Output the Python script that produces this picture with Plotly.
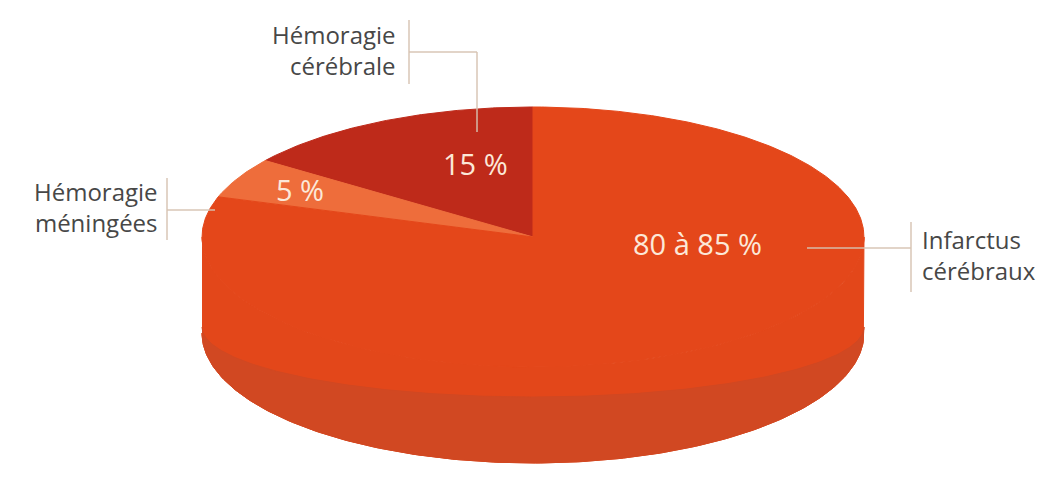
import numpy as np
import plotly.graph_objects as go

# ---------------- data ----------------
categories = ["Hémoragie cérébrale", "Hémoragie méningées", "Infarctus cérébraux"]
values = [15, 5, 80]
value_labels = ["15 %", "5 %", "80 à 85 %"]
slice_colors = ["#BE2A1A", "#EE6D3B", "#E4471A"]

# ---------------- geometry / style ----------------
W, H = 1059, 487
CX, CY, RX, RY, DEPTH = 533, 237, 331, 130, 96
START = 90.0  # first slice starts at 12 o'clock, goes counter-clockwise


def ell(theta_deg, r=1.0, cy=CY, ry=RY):
    t = np.radians(theta_deg)
    return CX + r * RX * np.cos(t), cy - r * ry * np.sin(t)


fig = go.Figure()

# side wall (front half, belongs to the big slice)
t = np.linspace(180, 360, 200)
xt, yt = ell(t)
xb, yb = ell(t[::-1], cy=CY + DEPTH)
wall = "#E3471A"
fig.add_trace(go.Scatter(x=np.r_[xt, xb], y=np.r_[yt, yb], fill="toself", mode="lines",
                         fillcolor=wall, line=dict(color=wall, width=1),
                         hoverinfo="skip", showlegend=False))
# darker lower band of the wall
xu, yu = ell(t, cy=CY + DEPTH - 6, ry=70)
band = "#D14822"
fig.add_trace(go.Scatter(x=np.r_[xu, xb], y=np.r_[yu, yb], fill="toself", mode="lines",
                         fillcolor=band, line=dict(color=band, width=1),
                         hoverinfo="skip", showlegend=False))

# top face slices from the values
total = float(sum(values))
a0 = START
for cat, v, col in zip(categories, values, slice_colors):
    a1 = a0 + 360.0 * v / total
    ang = np.linspace(a0, a1, max(int(abs(a1 - a0) * 2), 4))
    xs, ys = ell(ang)
    fig.add_trace(go.Scatter(x=np.r_[CX, xs, CX], y=np.r_[CY, ys, CY], fill="toself",
                             mode="lines", fillcolor=col, line=dict(color=col, width=1),
                             name=cat, hoverinfo="name", showlegend=False))
    a0 = a1

# value labels on the slices
inner_pos = [(475, 163), (300, 189), (697, 243)]
for txt, (x, y) in zip(value_labels, inner_pos):
    fig.add_annotation(x=x, y=y, text=txt, showarrow=False,
                       font=dict(family="Open Sans", size=29, color="#FCE8D8"))

# category labels (two lines each)
outer = [
    (categories[0], 398, 50, "right"),
    (categories[1], 160, 207, "right"),
    (categories[2], 920, 255, "left"),
]
for cat, x, y, anchor in outer:
    fig.add_annotation(x=x, y=y, text="<br>".join(cat.split(" ")), showarrow=False,
                       xanchor=anchor, yanchor="middle", align=anchor,
                       font=dict(family="Open Sans", size=24, color="#474747"))

# leader lines
lc = "rgba(214,195,178,0.95)"
leaders = [
    (409, 20, 409, 84), (409, 52, 477, 52), (477, 52, 477, 132),
    (167, 178, 167, 240), (167, 210, 215, 210),
    (911, 222, 911, 292), (807, 248, 911, 248),
]
for x0, y0, x1, y1 in leaders:
    fig.add_shape(type="line", x0=x0, y0=y0, x1=x1, y1=y1, xref="x", yref="y",
                  line=dict(color=lc, width=1.5))

fig.update_layout(
    width=W, height=H, margin=dict(l=0, r=0, t=0, b=0),
    paper_bgcolor="white", plot_bgcolor="white",
    xaxis=dict(range=[0, W], visible=False, fixedrange=True),
    yaxis=dict(range=[H, 0], visible=False, fixedrange=True),
)

fig.write_html("out.html")
